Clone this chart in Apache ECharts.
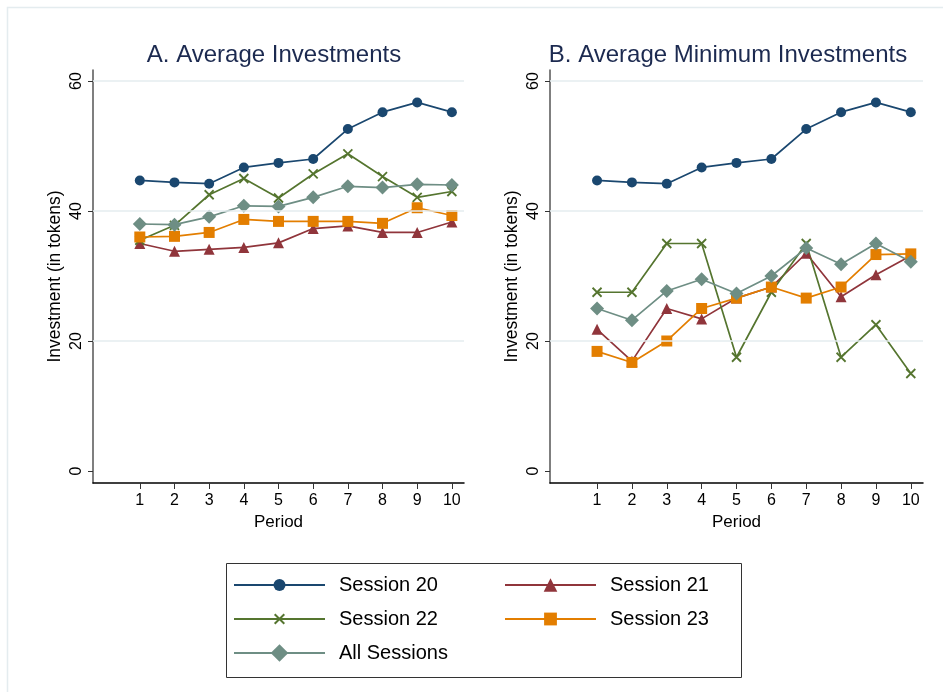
<!DOCTYPE html>
<html>
<head>
<meta charset="utf-8">
<title>Average Investments by Period</title>
<script src="https://cdn.jsdelivr.net/npm/echarts@6/dist/echarts.min.js"></script>
<style>
  html, body { margin: 0; padding: 0; background: #ffffff; }
  #chart { width: 943px; height: 692px; }
</style>
</head>
<body>
<div id="chart"></div>
<script>
// Periods on the horizontal axis
const periods = [1, 2, 3, 4, 5, 6, 7, 8, 9, 10];
const yTicks = [0, 20, 40, 60];
const gridValues = [20, 40, 60];

// Panel A: average investment per period
const avgSession20 = [44.7, 44.4, 44.2, 46.7, 47.4, 48.0, 52.6, 55.2, 56.7, 55.2];
const avgSession21 = [35.0, 33.8, 34.1, 34.4, 35.1, 37.3, 37.7, 36.7, 36.7, 38.3];
const avgSession22 = [35.5, 37.8, 42.5, 45.0, 42.0, 45.7, 48.8, 45.3, 42.1, 43.0];
const avgSession23 = [36.0, 36.1, 36.7, 38.7, 38.4, 38.4, 38.4, 38.1, 40.5, 39.3];
const avgAll       = [38.0, 37.9, 39.1, 40.8, 40.7, 42.1, 43.8, 43.6, 44.1, 44.0];

// Panel B: average minimum investment per period
const minSession20 = [44.7, 44.4, 44.2, 46.7, 47.4, 48.0, 52.6, 55.2, 56.7, 55.2];
const minSession21 = [21.8, 16.9, 25.0, 23.4, 26.6, 28.3, 33.5, 26.8, 30.2, 33.1];
const minSession22 = [27.5, 27.5, 35.0, 35.0, 17.5, 27.5, 35.0, 17.5, 22.5, 15.0];
const minSession23 = [18.4, 16.7, 20.0, 25.0, 26.6, 28.3, 26.6, 28.3, 33.3, 33.4];
const minAll       = [25.0, 23.2, 27.7, 29.5, 27.3, 30.0, 34.3, 31.8, 35.0, 32.2];

const names = ['Session 20', 'Session 21', 'Session 22', 'Session 23', 'All Sessions'];
const colors = ['#1a476f', '#90353b', '#55752f', '#e37e00', '#6e8e84'];
const symbols = ['circle', 'triangle', 'path://M0,0L10,10M10,0L0,10', 'rect', 'diamond'];
const symbolSizes = [10, 11, 9, 11, 14];
// legend marker heights (the legend draws its marker at 80% of this)
const legendIconHeights = [15, 17, 12, 16, 22];
const LEGEND_LINE = 24;

const panelA = [avgSession20, avgSession21, avgSession22, avgSession23, avgAll];
const panelB = [minSession20, minSession21, minSession22, minSession23, minAll];

const FONT = 'Liberation Sans, Arial, sans-serif';

function pairs(values) {
  return periods.map((p, i) => [p, values[i]]);
}

function makeSeries(values, idx, gridIdx) {
  const isCross = idx === 2;
  return {
    name: names[idx],
    type: 'line',
    xAxisIndex: gridIdx,
    yAxisIndex: gridIdx,
    data: pairs(values),
    symbol: symbols[idx],
    symbolSize: symbolSizes[idx],
    showAllSymbol: true,
    z: 3,
    lineStyle: { color: colors[idx], width: 1.7 },
    itemStyle: isCross
      ? { color: colors[idx], borderColor: colors[idx], borderWidth: 1.8, opacity: 1 }
      : { color: colors[idx], borderWidth: 0, opacity: 1 },
    emphasis: { disabled: true },
    animation: false
  };
}

function gridSeries(gridIdx) {
  return {
    name: 'grid' + gridIdx,
    type: 'line',
    xAxisIndex: gridIdx,
    yAxisIndex: gridIdx,
    data: [],
    z: 1,
    silent: true,
    markLine: {
      silent: true,
      symbol: 'none',
      label: { show: false },
      lineStyle: { color: '#e4ecef', width: 1.5, type: 'solid' },
      data: gridValues.map(v => ({ yAxis: v })),
      animation: false
    }
  };
}

function xAxis(gridIdx) {
  return {
    type: 'value',
    gridIndex: gridIdx,
    min: -0.35,
    max: 10.35,
    name: 'Period',
    nameLocation: 'middle',
    nameGap: 29,
    nameTextStyle: { fontFamily: FONT, fontSize: 17, color: '#000' },
    axisLine: { show: true, onZero: false, lineStyle: { color: '#000', width: 1.5 } },
    axisTick: { show: true, length: 6, customValues: periods, lineStyle: { color: '#333', width: 1 } },
    axisLabel: { customValues: periods, fontFamily: FONT, fontSize: 16, color: '#000', margin: 10 },
    splitLine: { show: false }
  };
}

function yAxis(gridIdx) {
  return {
    type: 'value',
    gridIndex: gridIdx,
    min: -1.846,
    max: 61.69,
    name: 'Investment (in tokens)',
    nameLocation: 'middle',
    nameRotate: 90,
    nameGap: 29,
    nameTextStyle: { fontFamily: FONT, fontSize: 17.5, color: '#000' },
    axisLine: { show: true, onZero: false, lineStyle: { color: '#555', width: 1.5 } },
    axisTick: { show: true, length: 5, customValues: yTicks, lineStyle: { color: '#333', width: 1 } },
    axisLabel: { customValues: yTicks, rotate: 90, fontFamily: FONT, fontSize: 16, color: '#000', margin: 8 },
    splitLine: { show: false }
  };
}

function legendItem(idx, left, rowCenter) {
  const h = legendIconHeights[idx];
  return {
    data: [names[idx]],
    left: left,
    top: rowCenter - Math.max(h, LEGEND_LINE) / 2,
    padding: 0,
    itemWidth: 91,
    itemHeight: h,
    selectedMode: false,
    textStyle: { fontFamily: FONT, fontSize: 20, lineHeight: LEGEND_LINE, color: '#000', padding: [0, 0, 0, 9] }
  };
}

const chart = echarts.init(document.getElementById('chart'), null, { renderer: 'canvas' });

const series = [gridSeries(0), gridSeries(1)];
panelA.forEach((vals, i) => series.push(makeSeries(vals, i, 0)));
panelB.forEach((vals, i) => series.push(makeSeries(vals, i, 1)));

chart.setOption({
  backgroundColor: '#ffffff',
  animation: false,
  title: [
    { text: 'A. Average Investments', left: 269, top: 38, textAlign: 'center',
      textStyle: { fontFamily: FONT, fontSize: 24, fontWeight: 'normal', color: '#1c2a50' } },
    { text: 'B. Average Minimum Investments', left: 723, top: 38, textAlign: 'center',
      textStyle: { fontFamily: FONT, fontSize: 24, fontWeight: 'normal', color: '#1c2a50' } }
  ],
  grid: [
    { left: 93, top: 70, width: 371, height: 413, containLabel: false },
    { left: 550, top: 70, width: 373, height: 413, containLabel: false }
  ],
  xAxis: [xAxis(0), xAxis(1)],
  yAxis: [yAxis(0), yAxis(1)],
  legend: [
    legendItem(0, 233, 585),
    legendItem(1, 504, 585),
    legendItem(2, 233, 619),
    legendItem(3, 504, 619),
    legendItem(4, 233, 653)
  ],
  graphic: [
    { type: 'rect', left: 5, top: 5, shape: { width: 960, height: 720 },
      style: { fill: 'none', stroke: '#e4ecef', lineWidth: 1.5 }, silent: true, z: -1 },
    { type: 'rect', left: 224, top: 561, shape: { width: 515, height: 114 },
      style: { fill: 'none', stroke: '#333', lineWidth: 1 }, silent: true }
  ],
  series: series
});
</script>
</body>
</html>
